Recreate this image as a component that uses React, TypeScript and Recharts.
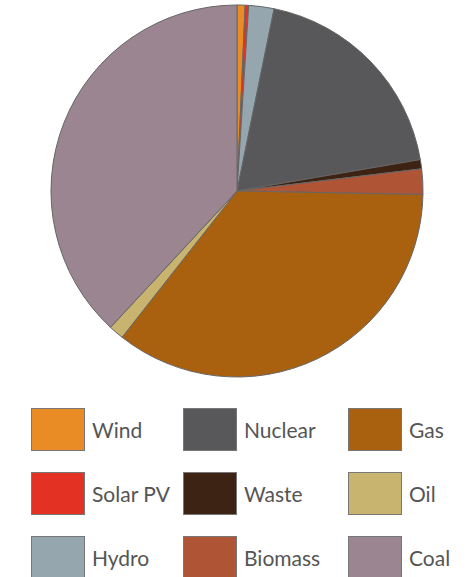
import { PieChart, Pie, Cell } from 'recharts'

const sources = ['Wind', 'Solar PV', 'Hydro', 'Nuclear', 'Waste', 'Biomass', 'Gas', 'Oil', 'Coal']
const shares = [0.7, 0.3, 2.2, 19.1, 0.8, 2.2, 35.3, 1.3, 38.1]
const colors = ['#EA8C25', '#E33224', '#95A6AF', '#58585A', '#3D2314', '#B05436', '#AA610F', '#C8B46F', '#9A8590']

const data = sources.map((name, i) => ({ name, value: shares[i] }))

// legend is laid out column by column
const colBoxX = [31, 183, 348]
const rowTop = [408, 472, 536]

export default function App() {
  return (
    <div style={{ position: 'absolute', left: 0, top: 0, width: 475, height: 577, overflow: 'hidden', background: '#fff' }}>
      <PieChart width={475} height={390} margin={{ top: 0, right: 0, bottom: 0, left: 0 }}>
        <Pie
          data={data}
          dataKey="value"
          nameKey="name"
          cx={237}
          cy={191}
          outerRadius={186}
          startAngle={90}
          endAngle={-270}
          stroke="#666"
          strokeWidth={1}
          isAnimationActive={false}
        >
          {data.map((d, i) => (
            <Cell key={d.name} fill={colors[i]} />
          ))}
        </Pie>
      </PieChart>
      {sources.map((name, i) => {
        const col = Math.floor(i / 3)
        const row = i % 3
        return (
          <div key={name} style={{ position: 'absolute', left: colBoxX[col], top: rowTop[row], display: 'flex', alignItems: 'center' }}>
            <div style={{ width: 52, height: 41, background: colors[i], border: '1.5px solid #777' }} />
            <span style={{ marginLeft: 7, fontFamily: 'Lato, sans-serif', fontSize: 21, color: '#555' }}>{name}</span>
          </div>
        )
      })}
    </div>
  )
}
